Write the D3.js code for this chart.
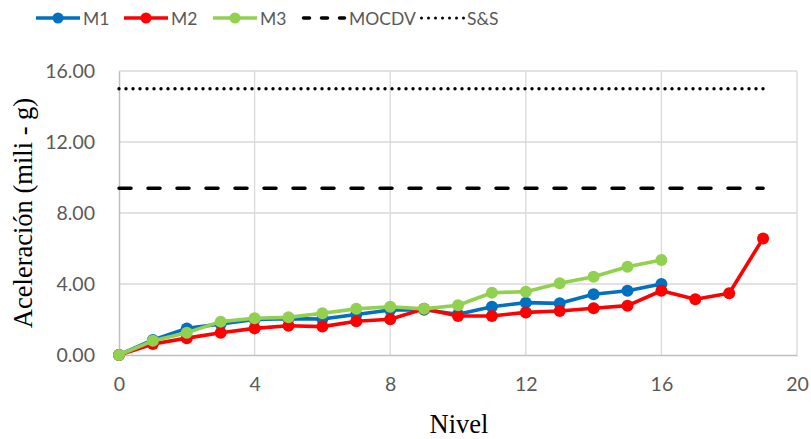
<!DOCTYPE html>
<html><head><meta charset="utf-8">
<script src="https://cdn.jsdelivr.net/npm/d3@7"></script>
<style>body{margin:0;background:#fff}svg{display:block}</style>
</head><body>
<svg id="c" width="811" height="439"></svg>
<script>
const levelsM1 = [0,1,2,3,4,5,6,7,8,9,10,11,12,13,14,15,16];
const valuesM1 = [0,0.85,1.50,1.75,2.00,2.05,2.03,2.28,2.54,2.55,2.30,2.72,2.95,2.91,3.42,3.62,4.00];
const levelsM2 = [0,1,2,3,4,5,6,7,8,9,10,11,12,13,14,15,16,17,18,19];
const valuesM2 = [0,0.62,0.95,1.25,1.50,1.65,1.60,1.90,2.01,2.60,2.20,2.20,2.40,2.48,2.63,2.78,3.62,3.14,3.48,6.57];
const levelsM3 = [0,1,2,3,4,5,6,7,8,9,10,11,12,13,14,15,16];
const valuesM3 = [0,0.80,1.26,1.88,2.07,2.12,2.35,2.60,2.72,2.60,2.80,3.51,3.57,4.04,4.41,4.97,5.35];
const mocdvRange = [0,19];
const mocdvValue = 9.4;
const ssRange = [0,19];
const ssValue = 15.0;
const xTicks = [0,4,8,12,16,20];
const yTicks = [0,4,8,12,16];
const seriesNames = ["M1","M2","M3","MOCDV","S&S"];
const colors = ["#0070C0","#FF0000","#92D050","#000000","#000000"];

const svg = d3.select("#c");
const L=119, R=797, T=71, B=355;
const x = d3.scaleLinear().domain([0,20]).range([L,R]);
const y = d3.scaleLinear().domain([0,16]).range([B,T]);
const tickFont = "Lato, 'Open Sans', sans-serif";
const serif = "'Liberation Serif', 'Times New Roman', serif";

// grid
svg.append("g").selectAll("line.h").data(yTicks.filter(d=>d>0)).join("line")
  .attr("x1",L).attr("x2",R).attr("y1",d=>y(d)).attr("y2",d=>y(d))
  .attr("stroke","#d9d9d9").attr("stroke-width",1.3);
svg.append("g").selectAll("line.v").data(xTicks.filter(d=>d>0)).join("line")
  .attr("y1",T).attr("y2",B).attr("x1",d=>x(d)).attr("x2",d=>x(d))
  .attr("stroke","#d9d9d9").attr("stroke-width",1.3);

// axes
const xAxis = svg.append("g").attr("transform",`translate(0,${B})`)
  .call(d3.axisBottom(x).tickValues(xTicks).tickSize(0).tickPadding(22).tickFormat(d3.format("d")));
const yAxis = svg.append("g").attr("transform",`translate(${L},0)`)
  .call(d3.axisLeft(y).tickValues(yTicks).tickSize(0).tickPadding(24).tickFormat(d3.format(".2f")));
[xAxis,yAxis].forEach(a=>{
  a.select(".domain").attr("stroke","#bfbfbf").attr("stroke-width",1.5);
  a.selectAll("text").attr("fill","#595959").style("font-family",tickFont).style("font-size","19.5px");
});

// reference lines
svg.append("line").attr("x1",x(mocdvRange[0])).attr("x2",x(mocdvRange[1]))
  .attr("y1",y(mocdvValue)).attr("y2",y(mocdvValue))
  .attr("stroke","#000").attr("stroke-width",3.5).attr("stroke-dasharray","12,17").attr("stroke-linecap","round");
svg.append("line").attr("x1",x(ssRange[0])).attr("x2",x(ssRange[1]))
  .attr("y1",y(ssValue)).attr("y2",y(ssValue))
  .attr("stroke","#000").attr("stroke-width",3.4).attr("stroke-dasharray","0,7").attr("stroke-linecap","round");

// series
const series = [
  {lv:levelsM1, v:valuesM1, c:colors[0]},
  {lv:levelsM2, v:valuesM2, c:colors[1]},
  {lv:levelsM3, v:valuesM3, c:colors[2]}
];
const line = d3.line().x(d=>x(d[0])).y(d=>y(d[1]));
series.forEach(s=>{
  const pts = s.lv.map((l,i)=>[l,s.v[i]]);
  svg.append("path").datum(pts).attr("d",line).attr("fill","none")
    .attr("stroke",s.c).attr("stroke-width",3.6).attr("stroke-linejoin","round");
  svg.append("g").selectAll("circle").data(pts).join("circle")
    .attr("cx",d=>x(d[0])).attr("cy",d=>y(d[1])).attr("r",6).attr("fill",s.c);
});

// legend
const legX = [36,124,213,302,420];
const leg = svg.append("g");
seriesNames.forEach((n,i)=>{
  const g = leg.append("g");
  const x0 = legX[i], yy = 18, w = 44;
  const ln = g.append("line").attr("x1",x0).attr("x2",x0+w).attr("y1",yy).attr("y2",yy).attr("stroke",colors[i]);
  if(i<3){
    ln.attr("stroke-width",3.4);
    g.append("circle").attr("cx",x0+w/2).attr("cy",yy).attr("r",5.5).attr("fill",colors[i]);
  } else if(i===3){
    ln.attr("x1",x0+1.5).attr("x2",x0+w-1.5).attr("stroke-width",3.5).attr("stroke-dasharray","6,12").attr("stroke-linecap","round");
  } else {
    ln.attr("x1",x0+1.5).attr("x2",x0+w).attr("stroke-width",3).attr("stroke-dasharray","0,7").attr("stroke-linecap","round");
  }
  g.append("text").attr("x",x0+w+3).attr("y",yy+6.5).text(n)
    .attr("fill","#595959").style("font-family",tickFont).style("font-size","17.5px");
});

// titles
svg.append("text").attr("x",459).attr("y",433).attr("text-anchor","middle")
  .style("font-family",serif).style("font-size","26.5px").attr("fill","#000").text("Nivel");
svg.append("text").attr("transform","translate(32,213) rotate(-90)").attr("text-anchor","middle")
  .style("font-family",serif).style("font-size","26.5px").attr("fill","#000").text("Aceleración (mili - g)");
</script>
</body></html>
